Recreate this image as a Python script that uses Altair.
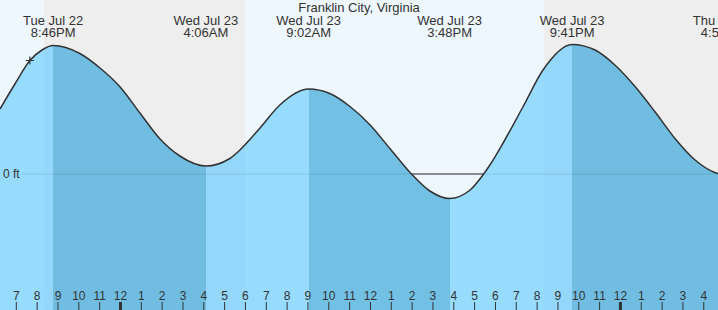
import altair as alt
import pandas as pd

# ---- tide curve ----
tide_times = [
    "2025-07-22 18:13", "2025-07-22 18:56", "2025-07-22 19:39", "2025-07-22 20:14", "2025-07-22 20:46",
    "2025-07-22 22:03", "2025-07-22 23:01", "2025-07-22 23:59", "2025-07-23 00:56", "2025-07-23 01:54",
    "2025-07-23 02:51", "2025-07-23 04:06", "2025-07-23 05:15", "2025-07-23 05:44", "2025-07-23 06:42",
    "2025-07-23 07:39", "2025-07-23 09:02", "2025-07-23 10:03", "2025-07-23 11:01", "2025-07-23 11:59",
    "2025-07-23 12:56", "2025-07-23 13:54", "2025-07-23 14:51", "2025-07-23 15:48", "2025-07-23 16:47",
    "2025-07-23 17:25", "2025-07-23 17:44", "2025-07-23 18:22", "2025-07-23 19:19", "2025-07-23 20:17",
    "2025-07-23 21:41", "2025-07-23 22:47", "2025-07-23 23:44", "2025-07-24 00:42", "2025-07-24 01:39",
    "2025-07-24 02:37", "2025-07-24 03:35", "2025-07-24 04:32", "2025-07-24 04:56",
]
tide_ft = [
    1.30, 1.80, 2.27, 2.48, 2.57,
    2.41, 2.12, 1.74, 1.22, 0.70,
    0.36, 0.16, 0.31, 0.48, 0.92,
    1.38, 1.70, 1.61, 1.35, 0.98,
    0.51, 0.03, -0.34, -0.49, -0.32,
    -0.01, 0.18, 0.62, 1.34, 2.08,
    2.59, 2.48, 2.18, 1.75, 1.25,
    0.71, 0.28, 0.03, -0.01,
]

# ---- high / low events ----
event_times = ["2025-07-22 20:46", "2025-07-23 04:06", "2025-07-23 09:02",
               "2025-07-23 15:48", "2025-07-23 21:41", "2025-07-24 04:56"]
event_day = ["Tue Jul 22", "Wed Jul 23", "Wed Jul 23", "Wed Jul 23", "Wed Jul 23", "Thu Jul 24"]
event_clock = ["8:46PM", "4:06AM", "9:02AM", "3:48PM", "9:41PM", "4:56AM"]

# ---- day / night ----
sky_start = ["2025-07-22 18:13", "2025-07-22 20:19", "2025-07-23 05:59", "2025-07-23 20:18"]
sky_end = ["2025-07-22 20:19", "2025-07-23 05:59", "2025-07-23 20:18", "2025-07-24 04:41"]
sky_kind = ["day", "night", "day", "night"]

# ---- current time marker ----
now_time = ["2025-07-22 19:39"]
now_ft = [2.27]

# ---- reference level ----
zero_ft = [0]
zero_label_text = ["0 ft"]

# ---- hour ticks ----
hour_ticks = pd.date_range("2025-07-22 19:00", "2025-07-24 04:00", freq="h")
hour_labels = [str(h.hour % 12 or 12) for h in hour_ticks]

title_text = "Franklin City, Virginia"
FONT = "Liberation Sans"
TXT = "#333333"
LIGHT = "#97DBFE"
DARK = "#72C1E5"
Y_MIN, Y_MAX = -2.72, 3.48

tide = pd.DataFrame({"t": tide_times, "v": tide_ft})
tide["base"] = Y_MIN
events = pd.DataFrame({"t": event_times, "day": event_day, "clock": event_clock})
sky = pd.DataFrame({"t": sky_start, "t2": sky_end, "kind": sky_kind})
now = pd.DataFrame({"t": now_time, "v": now_ft})
zero = pd.DataFrame({"v": zero_ft, "s": zero_label_text})
ticks = pd.DataFrame({
    "t": [h.strftime("%Y-%m-%d %H:%M") for h in hour_ticks],
    "label": hour_labels,
    "midnight": [h.hour == 0 for h in hour_ticks],
})

xdom = [alt.DateTime(year=2025, month=7, date=22, hours=18, minutes=13),
        alt.DateTime(year=2025, month=7, date=24, hours=4, minutes=41)]
xs = alt.Scale(domain=xdom)
ys = alt.Scale(domain=[Y_MIN, Y_MAX], nice=False, zero=False)
X = alt.X("t:T", scale=xs, axis=None)
Y = alt.Y("v:Q", scale=ys, axis=None)

# gradient stops for rising (light) / falling (dark) water
tt = pd.to_datetime(pd.Series(tide_times))
t_first, t_last = tt.iloc[0], tt.iloc[-1]
def off(s):
    return float((pd.Timestamp(s) - t_first) / (t_last - t_first))
stops = [alt.GradientStop(color=LIGHT, offset=0.0)]
col = LIGHT
for et in event_times[:-1]:
    o = off(et)
    stops.append(alt.GradientStop(color=col, offset=o))
    col = DARK if col == LIGHT else LIGHT
    stops.append(alt.GradientStop(color=col, offset=o))
stops.append(alt.GradientStop(color=col, offset=1.0))

sky_layer = alt.Chart(sky).mark_rect(opacity=1).encode(
    x=X, x2="t2:T", y=alt.value(0), y2=alt.value(310),
    color=alt.Color("kind:N", scale=alt.Scale(domain=["day", "night"], range=["#EEF6FE", "#F2F2F2"]), legend=None),
)

zero_dark = alt.Chart(zero).mark_rule(color="#333333", strokeWidth=1).encode(
    x=alt.value(22), x2=alt.value(718), y=Y
)

water = alt.Chart(tide).mark_area(
    interpolate="monotone", clip=True, opacity=1, fillOpacity=1,
    fill=alt.Gradient(gradient="linear", stops=stops, x1=0, x2=1, y1=0, y2=0),
).encode(x=X, y=Y, y2="base:Q")

night_overlay = alt.Chart(sky).transform_filter("datum.kind == 'night'").mark_rect(
    color="black", opacity=0.015
).encode(x=X, x2="t2:T", y=alt.value(0), y2=alt.value(310))

zero_faint = alt.Chart(zero).mark_rule(color="black", strokeOpacity=0.1, strokeWidth=1).encode(
    x=alt.value(22), x2=alt.value(718), y=Y
)

curve = alt.Chart(tide).mark_line(
    interpolate="monotone", color="#333333", strokeWidth=1.5, clip=True
).encode(x=X, y=Y)

plus = alt.Chart(now).mark_point(
    shape="M-1,0L1,0M0,-1L0,1", size=64, filled=False, color="#333333", strokeWidth=1.2, opacity=1
).encode(x=X, y=Y)

ev1 = alt.Chart(events).mark_text(font=FONT, fontSize=13, color=TXT, baseline="alphabetic", align="center").encode(
    x=X, y=alt.value(25), text="day:N")
ev2 = alt.Chart(events).mark_text(font=FONT, fontSize=13, color=TXT, baseline="alphabetic", align="center").encode(
    x=X, y=alt.value(36.5), text="clock:N")

title = alt.Chart(pd.DataFrame({"s": [title_text]})).mark_text(
    font=FONT, fontSize=13, color=TXT, baseline="alphabetic", align="center"
).encode(x=alt.value(359), y=alt.value(11.5), text="s:N")

zero_label = alt.Chart(zero).mark_text(
    font=FONT, fontSize=12, color=TXT, baseline="middle", align="left"
).encode(x=alt.value(3), y=Y, text="s:N")

tick_rules = alt.Chart(ticks).mark_rule(color="#333333").encode(
    x=X, y=alt.value(302), y2=alt.value(310),
    strokeWidth=alt.condition("datum.midnight", alt.value(3), alt.value(1)),
)
tick_text = alt.Chart(ticks).mark_text(font=FONT, fontSize=12, color=TXT, baseline="alphabetic", align="center").encode(
    x=X, y=alt.value(300), text="label:N")

chart = alt.layer(
    sky_layer, zero_dark, water, night_overlay, zero_faint, curve, plus,
    ev1, ev2, title, zero_label, tick_rules, tick_text
).properties(width=718, height=310, padding=0, autosize=alt.AutoSizeParams(type="none")).configure_view(stroke=None)

chart.save("out.html", embed_options={"renderer": "svg", "actions": False})
